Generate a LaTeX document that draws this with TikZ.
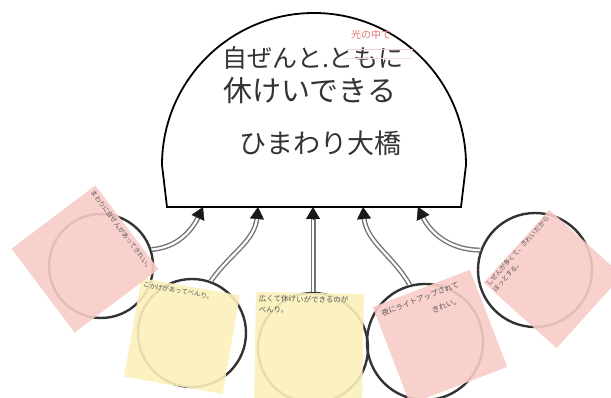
\documentclass[tikz,border=0pt]{standalone}
\usepackage{fontspec}
\setmainfont{Noto Sans CJK JP}
\usepackage{tikz}
\usetikzlibrary{arrows.meta,positioning}
\definecolor{notepink}{RGB}{247,203,198}
\definecolor{noteyellow}{RGB}{251,240,186}
\definecolor{penred}{RGB}{226,112,112}
\begin{document}
\begin{tikzpicture}[x=1pt,y=1pt,
ring/.style={draw=black!80,line width=2.4pt,circle,minimum size=#1,inner sep=0pt},
conn/.style={draw=black!55,double=white,double distance=2.2pt,line width=1.4pt,shorten >=10pt},
tiphead/.style={-{Triangle[length=12pt,width=14pt]},black!90,line width=.4pt},
note/.style={fill=#1,fill opacity=.9,inner sep=0pt},
notetext/.style={font=\fontsize{6.5}{9}\selectfont,text=black!65,inner sep=3pt,align=left},
title/.style={font=\fontsize{#1}{#1}\selectfont,text=black!80}]
\useasboundingbox (0,0) rectangle (611,398);
\node[ring=104pt] (c1) at (101,132) {};\node[ring=108pt] (c2) at (192,65) {};\node[ring=110pt] (c3) at (313,50) {};
\node[ring=116pt] (c4) at (425,56) {};\node[ring=114pt] (c5) at (535,128) {};
\coordinate (t1) at (203,191);\coordinate (t2) at (258,191);\coordinate (t3) at (313,191);\coordinate (t4) at (363,191);\coordinate (t5) at (418,191);
\draw[conn] (c1.18) to[out=5,in=-115] (t1);\draw[tiphead] ([shift={(-115:12)}]t1) -- (t1);
\draw[conn] (c2.70) to[out=55,in=-95] (t2);\draw[tiphead] ([shift={(-95:12)}]t2) -- (t2);
\draw[conn] (c3.north) -- (t3);\draw[tiphead] ([shift={(-90:12)}]t3) -- (t3);
\draw[conn] (c4.105) to[out=120,in=-85] (t4);\draw[tiphead] ([shift={(-85:12)}]t4) -- (t4);
\draw[conn] (c5.160) to[out=180,in=-65] (t5);\draw[tiphead] ([shift={(-65:12)}]t5) -- (t5);
\draw[line width=1.8pt] (162,233) arc[start angle=180,end angle=0,radius=152] -- (461,191) -- (167,191) -- cycle;
\node[title=25] (l1) at (313,340) {自ぜんと.ともに};
\node[title=29] (l2) at (310,307) {休けいできる};
\node[title=27] (l3) at (320,255) {ひまわり大橋};
\draw[penred!35,line width=.8pt] (347,349) -- (413,349);\draw[penred!25,line width=.8pt] (343,340) -- (413,340);
\node[text=penred,font=\fontsize{10}{10}\selectfont] (aside) at (371,363) {光の中で};
\node[note=noteyellow,minimum size=100pt,rotate=-10] (n2) at (182,62) {};
\node[note=notepink,minimum size=105pt,rotate=-53] (n1) at (85,139) {};
\node[note=noteyellow,minimum size=108pt,rotate=-1] (n3) at (309,51) {};
\node[note=notepink,minimum size=104pt,rotate=21] (n4) at (440,61) {};
\node[note=notepink,minimum size=98pt,rotate=48] (n5) at (553,119) {};
\node[notetext,rotate=-53,anchor=north west] at (n1.north west) {まわりに自ぜんがあってきれい。};
\node[notetext,rotate=-10,anchor=north west] at (n2.north west) {こかげがあってべんり。};
\node[notetext,rotate=-1,anchor=north west,font=\fontsize{7.5}{11}\selectfont] at (n3.north west) {広くて休けいができるのが\\べんり。};
\node[notetext,rotate=21,anchor=north west,inner sep=6pt,font=\fontsize{7.5}{10}\selectfont] at (n4.north west) {夜にライトアップされて\\[5pt]\hspace*{48pt}きれい。};
\node[notetext,rotate=48,anchor=north west,inner sep=1pt] at (n5.north west) {しぜんが多くて、きれいだから\\ほっとする。};
\end{tikzpicture}
\end{document}
